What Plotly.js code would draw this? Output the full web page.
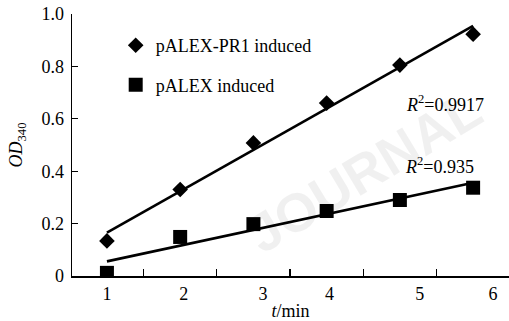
<!DOCTYPE html>
<html>
<head>
<meta charset="utf-8">
<script src="https://cdn.plot.ly/plotly-3.0.1.min.js"></script>
<style>html,body{margin:0;padding:0;background:#fff;}#chart{width:509px;height:321px;}</style>
</head>
<body>
<div id="chart"></div>
<script>
// Data
const times = [1, 2, 3, 4, 5, 6];
const pr1Induced = [0.134, 0.33, 0.508, 0.66, 0.805, 0.923];
const alexInduced = [0.012, 0.149, 0.198, 0.248, 0.290, 0.337];
const seriesNames = ['pALEX-PR1 induced', 'pALEX induced'];
const r2Labels = ['0.9917', '0.935'];
const xTickText = ['1', '2', '3', '4', '5', '6'];
const xTickLabelPos = [1.0, 2.05, 3.13, 4.04, 5.27, 6.27];
const xTickMarks = [1.5, 2.5, 3.5, 4.5, 5.5];
const yTickVals = [0, 0.2, 0.4, 0.6, 0.8, 1.0];
const yTickText = ['0', '0.2', '0.4', '0.6', '0.8', '1.0'];
const watermarkText = 'JOURNAL';

function linFit(xs, ys) {
  const n = xs.length;
  const mx = xs.reduce((a, b) => a + b, 0) / n;
  const my = ys.reduce((a, b) => a + b, 0) / n;
  let sxy = 0, sxx = 0;
  for (let i = 0; i < n; i++) { sxy += (xs[i] - mx) * (ys[i] - my); sxx += (xs[i] - mx) ** 2; }
  const b = sxy / sxx, a = my - b * mx;
  const x0 = xs[0], x1 = xs[n - 1];
  return { x: [x0, x1], y: [a + b * x0, a + b * x1] };
}
const fit1 = linFit(times, pr1Induced);
const fit2 = linFit(times, alexInduced);

const FONT = 'Liberation Serif, Times New Roman, serif';
const FS = 18;
const xRange = [0.523, 6.49];

const traces = [
  { x: fit1.x, y: fit1.y, mode: 'lines', line: { color: '#000', width: 2.6 }, showlegend: false, hoverinfo: 'skip' },
  { x: fit2.x, y: fit2.y, mode: 'lines', line: { color: '#000', width: 2.6 }, showlegend: false, hoverinfo: 'skip' },
  { x: times, y: pr1Induced, mode: 'markers', name: seriesNames[0], legendgroup: 'a',
    marker: { symbol: 'diamond', size: 12, color: '#000' } },
  { x: times, y: alexInduced, mode: 'markers', name: seriesNames[1], legendgroup: 'b',
    marker: { symbol: 'square', size: 14, color: '#000' } },
  // invisible trace to carry the tick-label axis
  { x: [xRange[0]], y: [0], xaxis: 'x2', mode: 'markers', marker: { opacity: 0 }, showlegend: false, hoverinfo: 'skip' }
];

const layout = {
  width: 509, height: 321,
  margin: { l: 72, r: 0, t: 14, b: 45 },
  paper_bgcolor: '#fff', plot_bgcolor: '#fff',
  font: { family: FONT, size: FS, color: '#000' },
  showlegend: true,
  legend: {
    x: 0.1, y: 0.95, xanchor: 'left', yanchor: 'top',
    bgcolor: 'rgba(0,0,0,0)', font: { family: FONT, size: FS, color: '#000' },
    traceorder: 'grouped', tracegroupgap: 13, itemwidth: 30
  },
  xaxis: {
    range: xRange, showgrid: false, zeroline: false,
    showline: true, linecolor: '#000', linewidth: 1.5,
    tickmode: 'array', tickvals: xTickMarks, ticks: 'inside', ticklen: 7, tickwidth: 1.3, tickcolor: '#000',
    showticklabels: false
  },
  xaxis2: {
    overlaying: 'x', anchor: 'y', side: 'bottom', range: xRange,
    showgrid: false, zeroline: false, showline: false, ticks: '',
    tickmode: 'array', tickvals: xTickLabelPos, ticktext: xTickText,
    tickfont: { family: FONT, size: FS, color: '#000' }, ticklabelstandoff: 5,
    title: { text: '<i>t</i>/min', font: { family: FONT, size: FS, color: '#000' }, standoff: 2 }
  },
  yaxis: {
    range: [0, 1], showgrid: false, zeroline: false,
    showline: true, linecolor: '#000', linewidth: 1.5,
    tickmode: 'array', tickvals: yTickVals, ticktext: yTickText,
    ticks: 'inside', ticklen: 6, tickwidth: 1.3, tickcolor: '#000',
    tickfont: { family: FONT, size: FS, color: '#000' }, ticklabelstandoff: 3,
    title: { text: '<i>OD</i><sub>340</sub>', font: { family: FONT, size: FS, color: '#000' }, standoff: 14 }
  },
  annotations: [
    { xref: 'paper', yref: 'paper', x: 0.67, y: 0.40, text: '<b>' + watermarkText + '</b>',
      showarrow: false, textangle: -31, xanchor: 'center', yanchor: 'middle',
      font: { family: 'Liberation Sans, Arial, sans-serif', size: 54, color: 'rgba(0,0,0,0.06)' } },
    { xref: 'x', yref: 'y', x: 5.61, y: 0.66, text: '<i>R</i><sup>2</sup>=' + r2Labels[0],
      showarrow: false, xanchor: 'center', font: { family: FONT, size: FS, color: '#000' } },
    { xref: 'x', yref: 'y', x: 5.54, y: 0.42, text: '<i>R</i><sup>2</sup>=' + r2Labels[1],
      showarrow: false, xanchor: 'center', font: { family: FONT, size: FS, color: '#000' } }
  ]
};

Plotly.newPlot('chart', traces, layout, { displayModeBar: false, staticPlot: true });
</script>
</body>
</html>
